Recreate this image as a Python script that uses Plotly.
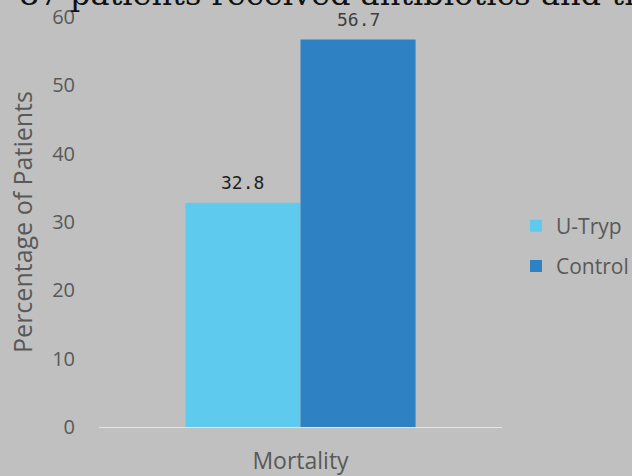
import plotly.graph_objects as go

categories = ["Mortality"]
series_names = ["U-Tryp", "Control"]
utryp_values = [32.8]
control_values = [56.7]
series_colors = ["#5ecbee", "#2e82c4"]
label_colors = ["#1e1e1e", "#404040"]
y_ticks = [0, 10, 20, 30, 40, 50, 60]

W, H = 632, 476
L, R, T, B = 99, 130, 17, 49
PW, PH = W - L - R, H - T - B

fig = go.Figure()
series = [utryp_values, control_values]
for i, (name, vals, col) in enumerate(zip(series_names, series, series_colors)):
    fig.add_trace(go.Bar(
        x=categories, y=vals, name=name, legendgroup=name,
        marker=dict(color=col, line=dict(width=0)),
        hoverinfo="x+y",
    ))

# value labels above each bar (bars are offset half a bar width from the category centre)
bar_px = PW * (1 - 0.429) / 2
for i, vals in enumerate(series):
    for cat, v in zip(categories, vals):
        fig.add_annotation(
            x=cat, y=v, xref="x", yref="y", text=f"{v:.1f}", showarrow=False,
            xshift=(i - 0.5) * bar_px, yanchor="bottom", yshift=8,
            font=dict(family="DejaVu Sans Mono", size=18, color=label_colors[i]),
        )

fig.add_annotation(
    text="87 patients received antibiotics and the",
    xref="paper", yref="paper", x=(17 - L) / PW, y=1 + (T - 15) / PH,
    xanchor="left", yanchor="bottom", showarrow=False,
    font=dict(family="DejaVu Serif", size=32, color="#111111"),
)

fig.update_layout(
    width=W, height=H,
    margin=dict(l=L, r=R, t=T, b=B, pad=0, autoexpand=False),
    paper_bgcolor="#c0c0c0", plot_bgcolor="#c0c0c0",
    barmode="group", bargap=0.429, bargroupgap=0,
    showlegend=True,
    legend=dict(
        x=(516 - L) / PW, y=(427 - 246) / PH,
        xanchor="left", yanchor="middle",
        font=dict(family="Open Sans", size=21, color="#595959"),
        bgcolor="rgba(0,0,0,0)", traceorder="grouped", tracegroupgap=10, itemwidth=30,
    ),
    xaxis=dict(
        showgrid=False, showline=True, linecolor="#e4e4e4", linewidth=1,
        ticks="", ticklabelstandoff=13,
        tickfont=dict(family="Open Sans", size=23, color="#595959"),
    ),
    yaxis=dict(
        range=[0, 60], tickvals=y_ticks, showgrid=False, zeroline=False, showline=False,
        ticks="", ticklabelstandoff=23,
        tickfont=dict(family="Open Sans", size=20, color="#595959"),
        title=dict(text="Percentage of Patients", standoff=12,
                   font=dict(family="Open Sans", size=25, color="#595959")),
    ),
)

fig.write_html("out.html")
